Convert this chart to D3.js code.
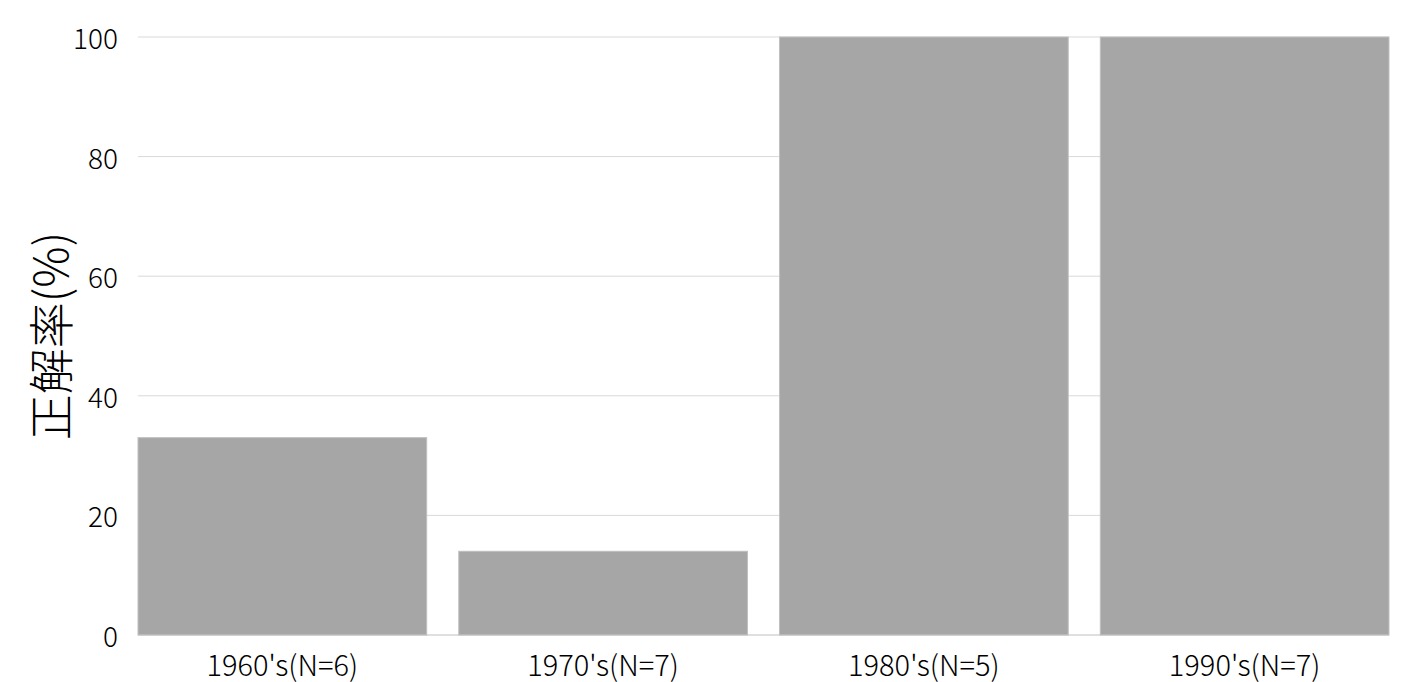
<!DOCTYPE html>
<html>
<head>
<meta charset="utf-8">
<script src="https://cdn.jsdelivr.net/npm/d3@7"></script>
<style>
  body { margin: 0; background: #fff; }
  text { font-family: "Noto Sans CJK JP", "Noto Sans", sans-serif; font-weight: 300; }
</style>
</head>
<body>
<div id="container"></div>
<script>
const categories = ["1960's(N=6)", "1970's(N=7)", "1980's(N=5)", "1990's(N=7)"];
const values = [33, 14, 100, 100];
const yTicks = [0, 20, 40, 60, 80, 100];

const width = 1416, height = 682;
const margin = {top: 37, right: 27, bottom: 47, left: 138};

const svg = d3.select("#container")
  .append("svg")
  .attr("width", width)
  .attr("height", height);

const x = d3.scaleBand()
  .domain(categories)
  .range([margin.left, width - margin.right])
  .paddingInner(0.1)
  .paddingOuter(0);

const y = d3.scaleLinear()
  .domain([0, 100])
  .range([height - margin.bottom, margin.top]);

// grid lines
svg.append("g")
  .selectAll("line")
  .data(yTicks.filter(d => d > 0))
  .join("line")
  .attr("x1", margin.left)
  .attr("x2", width - margin.right)
  .attr("y1", d => y(d))
  .attr("y2", d => y(d))
  .attr("stroke", "#d9d9d9")
  .attr("stroke-width", 1);

// bars
svg.append("g")
  .selectAll("rect")
  .data(values)
  .join("rect")
  .attr("x", (d, i) => x(categories[i]))
  .attr("y", d => y(d))
  .attr("width", x.bandwidth())
  .attr("height", d => y(0) - y(d))
  .attr("fill", "#a6a6a6")
  .attr("stroke", "#bfbfbf")
  .attr("stroke-width", 1);

// baseline
svg.append("line")
  .attr("x1", margin.left)
  .attr("x2", width - margin.right)
  .attr("y1", y(0))
  .attr("y2", y(0))
  .attr("stroke", "#bfbfbf")
  .attr("stroke-width", 1);

// y tick labels
svg.append("g")
  .selectAll("text")
  .data(yTicks)
  .join("text")
  .attr("x", 118)
  .attr("y", d => y(d))
  .attr("text-anchor", "end")
  .attr("dominant-baseline", "central")
  .attr("font-size", 28)
  .attr("fill", "#000")
  .text(d => d);

// x labels
svg.append("g")
  .selectAll("text")
  .data(categories)
  .join("text")
  .attr("x", d => x(d) + x.bandwidth() / 2)
  .attr("y", y(0) + 28)
  .attr("text-anchor", "middle")
  .attr("dominant-baseline", "central")
  .attr("font-size", 29)
  .attr("fill", "#000")
  .text(d => d);

// y axis title
svg.append("text")
  .attr("transform", `translate(48, ${(y(0) + y(100)) / 2}) rotate(-90)`)
  .attr("text-anchor", "middle")
  .attr("dominant-baseline", "central")
  .attr("font-size", 46)
  .attr("fill", "#000")
  .text("正解率(%)");
</script>
</body>
</html>
